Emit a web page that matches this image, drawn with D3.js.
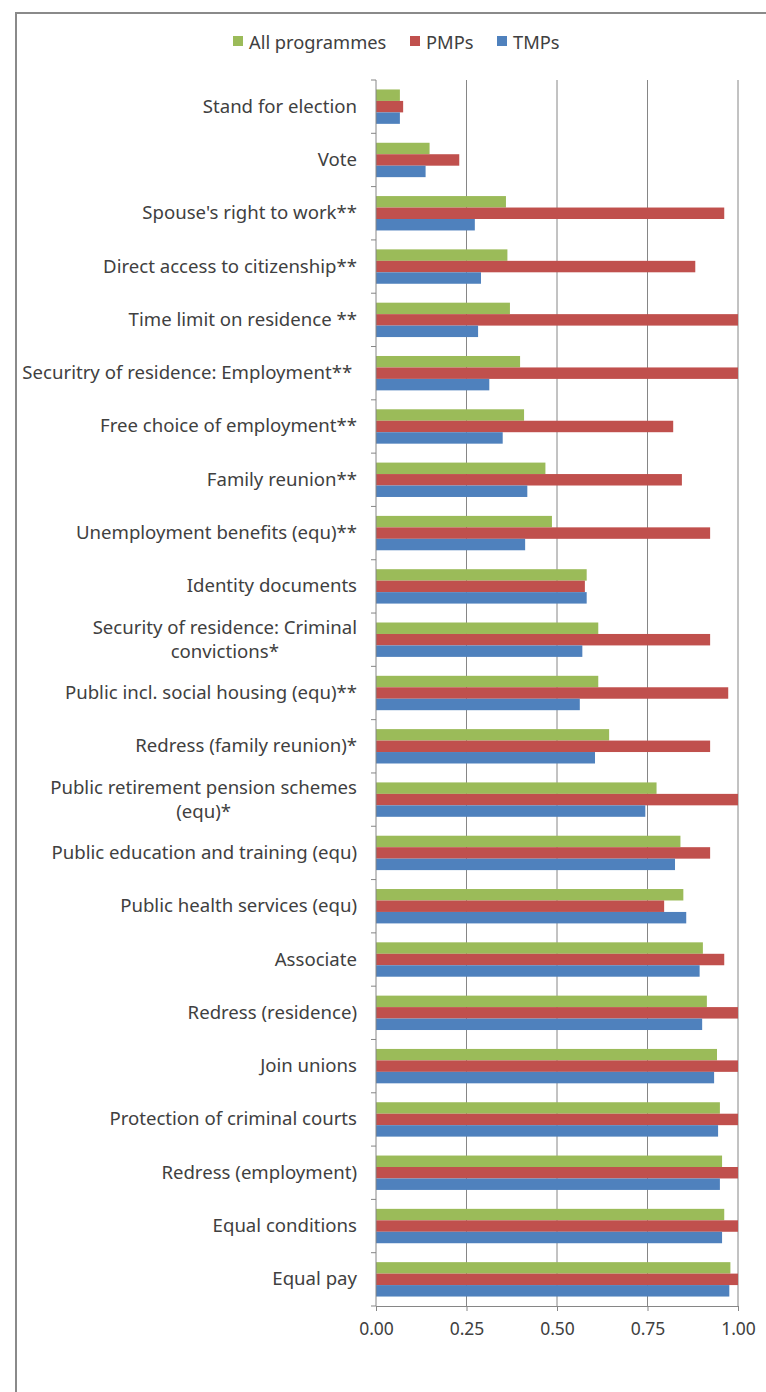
<!DOCTYPE html>
<html>
<head>
<meta charset="utf-8">
<script src="https://cdn.jsdelivr.net/npm/d3@7"></script>
<style>
  body { margin: 0; background: #fff; }
  svg { display: block; }
  text { font-family: "Noto Sans", "Open Sans", sans-serif; fill: #404040; }
</style>
</head>
<body>
<svg id="chart"></svg>
<script>
// categories, top to bottom (multi-line labels split with \n)
const categories = [
  "Stand for election",
  "Vote",
  "Spouse's right to work**",
  "Direct access to citizenship**",
  "Time limit on residence **",
  "Securitry of residence: Employment** ",
  "Free choice of employment**",
  "Family reunion**",
  "Unemployment benefits (equ)**",
  "Identity documents",
  "Security of residence: Criminal\nconvictions*",
  "Public incl. social housing (equ)**",
  "Redress (family reunion)*",
  "Public retirement pension schemes\n(equ)*",
  "Public education and training (equ)",
  "Public health services (equ)",
  "Associate",
  "Redress (residence)",
  "Join unions",
  "Protection of criminal courts",
  "Redress (employment)",
  "Equal conditions",
  "Equal pay"
]

const allProgrammes = [0.066, 0.148, 0.359, 0.363, 0.370, 0.398, 0.409, 0.468, 0.486, 0.582, 0.614, 0.614, 0.644, 0.775, 0.841, 0.849, 0.903, 0.914, 0.942, 0.950, 0.956, 0.962, 0.979]
const pmps =          [0.075, 0.230, 0.962, 0.882, 1.000, 1.000, 0.821, 0.845, 0.923, 0.577, 0.923, 0.973, 0.923, 1.000, 0.923, 0.796, 0.962, 1.000, 1.000, 1.000, 1.000, 1.000, 1.000]
const tmps =          [0.066, 0.137, 0.273, 0.290, 0.282, 0.313, 0.350, 0.418, 0.412, 0.582, 0.570, 0.563, 0.605, 0.744, 0.826, 0.857, 0.894, 0.901, 0.934, 0.945, 0.950, 0.956, 0.976]

const seriesNames = ["All programmes", "PMPs", "TMPs"]
const seriesColors = ["#9BBB59", "#C0504D", "#4F81BD"]
const xTicks = [0, 0.25, 0.5, 0.75, 1]

const width = 766, height = 1392
const plot = { left: 376, right: 738, top: 80, bottom: 1306 }

const svg = d3.select("#chart").attr("width", width).attr("height", height)

// outer chart frame (runs off the page right and bottom)
svg.append("rect")
  .attr("x", 16).attr("y", 13)
  .attr("width", 800).attr("height", 1420)
  .attr("fill", "none")
  .attr("stroke", "#8a8a8a")
  .attr("stroke-width", 2)

const x = d3.scaleLinear().domain([0, 1]).range([plot.left, plot.right])
const y0 = d3.scaleBand().domain(categories).range([plot.top, plot.bottom])
  .paddingInner(0.355).paddingOuter(0.1775)
const y1 = d3.scaleBand().domain(seriesNames).range([0, y0.bandwidth()])

const rows = categories.map((c, i) => ({
  cat: c,
  vals: [allProgrammes[i], pmps[i], tmps[i]]
}))

// gridlines
svg.append("g")
  .selectAll("line")
  .data(xTicks.slice(1))
  .join("line")
  .attr("x1", d => x(d)).attr("x2", d => x(d))
  .attr("y1", plot.top).attr("y2", plot.bottom)
  .attr("stroke", "#868686")
  .attr("stroke-width", 1)

// bars
const groups = svg.append("g")
  .selectAll("g")
  .data(rows)
  .join("g")
  .attr("transform", d => `translate(0,${y0(d.cat)})`)

groups.selectAll("rect")
  .data(d => d.vals.map((v, j) => ({ key: seriesNames[j], v: v, color: seriesColors[j] })))
  .join("rect")
  .attr("x", x(0))
  .attr("y", d => y1(d.key))
  .attr("width", d => x(d.v) - x(0))
  .attr("height", y1.bandwidth())
  .attr("fill", d => d.color)

// x axis
const xAxis = svg.append("g")
  .attr("transform", `translate(0,${plot.bottom})`)
  .call(d3.axisBottom(x).tickValues(xTicks).tickFormat(d3.format(".2f")).tickSize(5).tickPadding(12))
xAxis.select(".domain").attr("stroke", "#868686")
xAxis.selectAll(".tick line").attr("stroke", "#868686")
xAxis.selectAll("text").attr("font-size", 17.5).attr("fill", "#404040")
  .style("font-family", '"Noto Sans", sans-serif')

// y axis line + ticks at band boundaries
svg.append("line")
  .attr("x1", plot.left).attr("x2", plot.left)
  .attr("y1", plot.top).attr("y2", plot.bottom)
  .attr("stroke", "#868686")
const step = y0.step()
svg.append("g")
  .selectAll("line")
  .data(d3.range(categories.length + 1))
  .join("line")
  .attr("x1", plot.left - 5).attr("x2", plot.left)
  .attr("y1", i => plot.top + i * step).attr("y2", i => plot.top + i * step)
  .attr("stroke", "#868686")

// category labels
const labelRight = 357
const lineH = 24
const labels = svg.append("g")
  .selectAll("g")
  .data(categories)
  .join("g")
  .attr("transform", d => `translate(0,${y0(d) + y0.bandwidth() / 2 - 2})`)

labels.each(function(d) {
  const g = d3.select(this)
  const lines = d.split("\n")
  const t = g.append("text")
    .attr("font-size", 18.6)
    .attr("dominant-baseline", "central")
    .style("white-space", "pre")
  lines.forEach((ln, k) => {
    t.append("tspan").attr("y", (k - (lines.length - 1) / 2) * lineH).text(ln)
  })
  // right-align the block, centre each line inside it
  const spans = t.selectAll("tspan").nodes()
  const widths = spans.map(s => s.getComputedTextLength())
  const maxW = d3.max(widths)
  spans.forEach((s, k) => {
    d3.select(s).attr("x", labelRight - maxW + (maxW - widths[k]) / 2)
  })
})

// legend
const legend = svg.append("g").attr("transform", "translate(0,41)")
const legX = [233, 410, 497]
seriesNames.forEach((name, j) => {
  legend.append("rect")
    .attr("x", legX[j]).attr("y", -5)
    .attr("width", 10).attr("height", 10)
    .attr("fill", seriesColors[j])
  legend.append("text")
    .attr("x", legX[j] + 16).attr("y", 0)
    .attr("dominant-baseline", "central")
    .attr("font-size", 18.3)
    .text(name)
})
</script>
</body>
</html>
